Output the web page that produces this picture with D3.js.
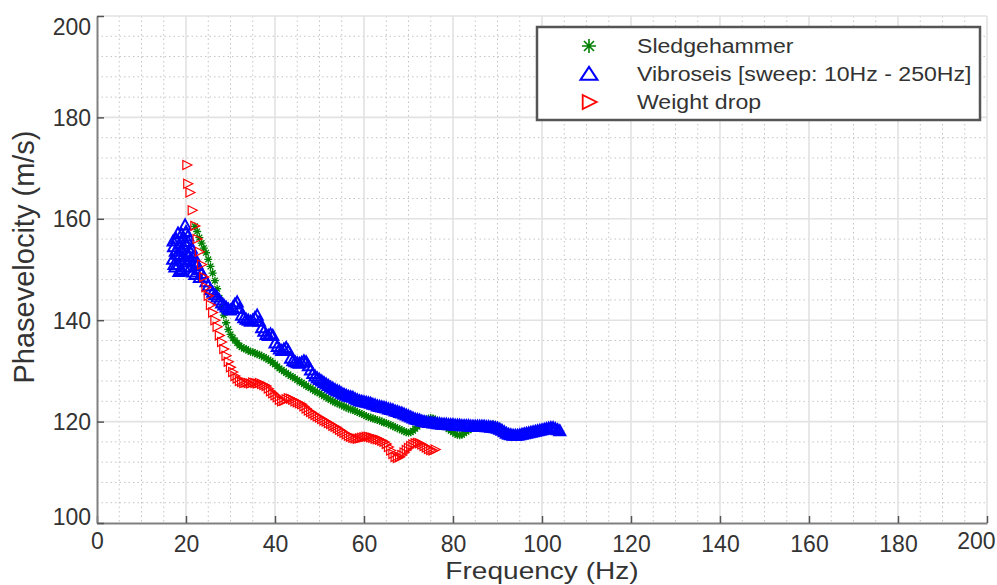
<!DOCTYPE html>
<html>
<head>
<meta charset="utf-8">
<script src="https://cdn.jsdelivr.net/npm/d3@7"></script>
<style>
	body { margin: 0; background: #fff; }
	text { font-family: "Liberation Sans", Arial, sans-serif; fill: #333; }
</style>
</head>
<body>
<div id="chart"></div>
<script>
///////////////////////////////////////////////////////////////////////////
//////////////////////////// data /////////////////////////////////////////
///////////////////////////////////////////////////////////////////////////

const seriesNames = [
	"Sledgehammer",
	"Vibroseis [sweep: 10Hz - 250Hz]",
	"Weight drop"
];

const xTicks = [0, 20, 40, 60, 80, 100, 120, 140, 160, 180, 200];
const yTicks = [100, 120, 140, 160, 180, 200];

// sledgehammer, sampled every 0.5 Hz from 22 Hz
const sledgeStart = 22.0;
const sledgeStep = 0.5;
const sledgeVel = [
	158.5, 157.5, 156.3, 155.2, 154.2, 153.3, 152.0, 150.6, 149.3, 147.8,
	146.2, 144.4, 142.6, 141.0, 139.5, 138.2, 137.2, 136.5, 136.0, 135.5,
	135.0, 134.7, 134.4, 134.3, 134.0, 133.8, 133.7, 133.5, 133.3, 133.2,
	132.9, 132.7, 132.5, 132.2, 132.0, 131.6, 131.3, 130.9, 130.5, 130.2,
	129.9, 129.6, 129.3, 129.0, 128.8, 128.5, 128.2, 127.9, 127.7, 127.4,
	127.1, 126.8, 126.6, 126.3, 126.0, 125.8, 125.6, 125.3, 125.0, 124.8,
	124.5, 124.3, 124.0, 123.8, 123.6, 123.4, 123.2, 123.0, 122.8, 122.6,
	122.4, 122.3, 122.1, 121.9, 121.7, 121.5, 121.3, 121.1, 120.9, 120.8,
	120.6, 120.5, 120.3, 120.2, 120.0, 119.8, 119.7, 119.5, 119.3, 119.1,
	118.9, 118.7, 118.5, 118.3, 118.1, 117.9, 117.8, 117.9, 118.2, 118.6,
	119.0, 119.5, 119.9, 120.2, 120.4, 120.6, 120.7, 120.6, 120.4, 120.1,
	119.8, 119.5, 119.2, 118.9, 118.5, 118.2, 117.9, 117.6, 117.4, 117.3,
	117.4, 117.7, 118.0, 118.3, 118.6, 118.8, 119.0, 119.1, 119.2, 119.3,
	119.3, 119.4, 119.4, 119.4, 119.5, 119.3, 119.2
];

// vibroseis, scattered picks at the low end
const vibroScatter = [
	[17.0, 152.0], [17.2, 154.5], [17.3, 151.0], [17.5, 150.5], [17.8, 156.0],
	[18.0, 153.0], [18.2, 157.2], [18.3, 151.0], [18.5, 155.0], [18.8, 149.8],
	[19.0, 157.0], [19.0, 150.0], [19.2, 152.5], [19.5, 154.5], [19.7, 150.5],
	[19.8, 158.8], [20.2, 151.5], [20.5, 153.0], [21.0, 150.5], [21.5, 149.5],
	[22.0, 149.0], [18.6, 152.8], [19.4, 156.2], [20.0, 155.0], [20.8, 151.8],
	[17.6, 153.6], [18.9, 154.0], [20.4, 156.6], [21.2, 154.2], [22.4, 151.2],
	[23.0, 148.4], [17.1, 155.6], [19.6, 152.0], [21.8, 152.6], [18.4, 149.6]
];

// vibroseis, sampled every 0.5 Hz from 20 Hz
const vibroStart = 20.0;
const vibroStep = 0.5;
const vibroVel = [
	157.5, 155.5, 153.5, 152.5, 151.5, 150.8, 150.0, 149.2, 148.5, 147.6,
	146.8, 146.0, 145.5, 145.0, 144.6, 144.0, 143.4, 143.0, 142.6, 142.2,
	142.0, 142.5, 143.2, 143.6, 142.3, 141.0, 140.5, 140.2, 140.0, 139.8,
	140.0, 140.5, 141.0, 139.8, 138.5, 137.8, 137.2, 137.0, 137.3, 137.0,
	135.5, 134.8, 134.3, 134.0, 134.3, 134.6, 134.0, 132.5, 132.0, 131.8,
	131.6, 131.5, 131.7, 132.0, 131.8, 131.0, 130.2, 129.5, 129.0, 128.6,
	128.3, 128.0, 127.7, 127.4, 127.1, 126.8, 126.6, 126.3, 126.1, 125.9,
	125.6, 125.4, 125.2, 125.0, 124.9, 124.8, 124.5, 124.3, 124.1, 124.0,
	123.9, 123.8, 123.7, 123.6, 123.4, 123.3, 123.1, 123.0, 122.9, 122.8,
	122.7, 122.5, 122.4, 122.3, 122.1, 122.0, 121.8, 121.7, 121.5, 121.3,
	121.1, 120.9, 120.7, 120.5, 120.4, 120.3, 120.1, 120.0, 119.9, 119.8,
	119.8, 119.7, 119.7, 119.6, 119.6, 119.5, 119.5, 119.5, 119.4, 119.4,
	119.4, 119.3, 119.3, 119.3, 119.2, 119.2, 119.2, 119.2, 119.1, 119.1,
	119.1, 119.1, 119.1, 119.1, 119.1, 119.0, 119.0, 118.9, 118.9, 118.8,
	118.7, 118.5, 118.3, 118.0, 117.7, 117.5, 117.4, 117.3, 117.3, 117.3,
	117.4, 117.5, 117.6, 117.7, 117.8, 117.9, 118.0, 118.1, 118.2, 118.3,
	118.4, 118.5, 118.6, 118.7, 118.8, 118.8, 118.6, 118.4, 118.2
];

// weight drop, sparse picks at the top
const dropTop = [
	[20.2, 170.6], [20.4, 166.9], [20.9, 165.2], [21.4, 161.7], [22.0, 158.6]
];

// weight drop, sampled every 0.5 Hz from 22.5 Hz
const dropStart = 22.5;
const dropStep = 0.5;
const dropVel = [
	156.0, 153.5, 151.0, 148.5, 146.5, 144.8, 143.0, 141.5, 140.0, 138.7,
	137.0, 135.7, 134.3, 133.0, 131.8, 130.7, 129.8, 129.0, 128.5, 128.0,
	127.8, 127.6, 127.7, 127.6, 127.5, 127.7, 127.6, 127.5, 127.6, 127.4,
	127.2, 127.0, 126.5, 126.0, 125.6, 125.2, 124.8, 124.3, 124.0, 124.1,
	124.4, 124.6, 124.5, 124.3, 124.0, 123.8, 123.6, 123.4, 123.0, 122.6,
	122.2, 121.9, 121.6, 121.3, 121.0, 120.8, 120.5, 120.2, 120.0, 119.7,
	119.5, 119.2, 119.0, 118.7, 118.4, 118.1, 117.8, 117.5, 117.2, 117.0,
	116.8, 116.7, 116.6, 116.7, 116.8, 116.9, 117.0, 117.0, 116.9, 116.8,
	116.6, 116.5, 116.4, 116.2, 116.0, 115.6, 115.0, 114.3, 113.6, 113.0,
	112.8, 113.0, 113.4, 113.9, 114.4, 114.8, 115.2, 115.5, 115.7, 115.8,
	115.7, 115.5, 115.2, 114.9, 114.6, 114.4, 114.3, 114.5
];

///////////////////////////////////////////////////////////////////////////
//////////////////////////// drawing function /////////////////////////////
///////////////////////////////////////////////////////////////////////////

const createChart = () => {
	//////////////////////////// tables ///////////////////////////////////////

	const sledge = sledgeVel.map((v, i) => ({ f: sledgeStart + i * sledgeStep, v }));
	const vibro = vibroScatter
		.map(([f, v]) => ({ f, v }))
		.concat(vibroVel.map((v, i) => ({ f: vibroStart + i * vibroStep, v })));
	const drop = dropTop
		.map(([f, v]) => ({ f, v }))
		.concat(dropVel.map((v, i) => ({ f: dropStart + i * dropStep, v })));

	const xAccessor = (d) => d.f;
	const yAccessor = (d) => d.v;

	//////////////////////////// sizes ////////////////////////////////////////

	let dimensions = {
		width: 997,
		height: 585,
		margin: { top: 16, right: 10, bottom: 62, left: 97 }
	};
	dimensions.boundedWidth =
		dimensions.width - dimensions.margin.left - dimensions.margin.right;
	dimensions.boundedHeight =
		dimensions.height - dimensions.margin.top - dimensions.margin.bottom;

	//////////////////////////// svg //////////////////////////////////////////

	const wrapper = d3
		.select("#chart")
		.append("svg")
		.attr("width", dimensions.width)
		.attr("height", dimensions.height);

	const bounds = wrapper
		.append("g")
		.attr(
			"transform",
			`translate(${dimensions.margin.left},${dimensions.margin.top})`
		);

	//////////////////////////// scales ///////////////////////////////////////

	const xScale = d3
		.scaleLinear()
		.domain([0, 200])
		.range([0, dimensions.boundedWidth]);

	const yScale = d3
		.scaleLinear()
		.domain([100, 200])
		.range([dimensions.boundedHeight, 0]);

	//////////////////////////// grid /////////////////////////////////////////

	const xMinor = d3.range(0, 201, 5).filter((d) => d % 20 !== 0);
	const yMinor = d3.range(100, 201, 4).filter((d) => d % 20 !== 0);

	const grid = bounds.append("g").attr("class", "grid");

	grid
		.selectAll(".xminor")
		.data(xMinor)
		.join("line")
		.attr("x1", (d) => xScale(d))
		.attr("x2", (d) => xScale(d))
		.attr("y1", 0)
		.attr("y2", dimensions.boundedHeight)
		.attr("stroke", "#c4c4c4")
		.attr("stroke-width", 1)
		.attr("stroke-dasharray", "1.5,3");

	grid
		.selectAll(".yminor")
		.data(yMinor)
		.join("line")
		.attr("y1", (d) => yScale(d))
		.attr("y2", (d) => yScale(d))
		.attr("x1", 0)
		.attr("x2", dimensions.boundedWidth)
		.attr("stroke", "#c4c4c4")
		.attr("stroke-width", 1)
		.attr("stroke-dasharray", "1.5,3");

	grid
		.selectAll(".xmajor")
		.data(xTicks.slice(1))
		.join("line")
		.attr("x1", (d) => xScale(d))
		.attr("x2", (d) => xScale(d))
		.attr("y1", 0)
		.attr("y2", dimensions.boundedHeight)
		.attr("stroke", "#e2e2e2")
		.attr("stroke-width", 1.6);

	grid
		.selectAll(".ymajor")
		.data(yTicks.slice(1))
		.join("line")
		.attr("y1", (d) => yScale(d))
		.attr("y2", (d) => yScale(d))
		.attr("x1", 0)
		.attr("x2", dimensions.boundedWidth)
		.attr("stroke", "#e2e2e2")
		.attr("stroke-width", 1.6);

	//////////////////////////// axes /////////////////////////////////////////

	const xAxis = bounds
		.append("g")
		.attr("transform", `translate(0,${dimensions.boundedHeight})`)
		.call(
			d3.axisBottom(xScale).tickValues(xTicks).tickSize(-7).tickSizeOuter(0).tickPadding(13)
		);
	xAxis.select(".domain").attr("stroke", "#808080").attr("stroke-width", 2);
	xAxis.selectAll(".tick line").attr("stroke", "#555").attr("stroke-width", 1.5);
	xAxis
		.selectAll(".tick text")
		.attr("font-size", 23)
		.attr("font-family", "Liberation Sans, Arial, sans-serif")
		.attr("fill", "#333")
		.attr("text-anchor", (d) => (d === 200 ? "end" : "middle"))
		.attr("x", (d) => (d === 200 ? 8 : 0))
		.attr("dy", (d) => (d === 0 || d === 200 ? "0.55em" : "0.71em"));

	const yAxis = bounds
		.append("g")
		.call(
			d3.axisLeft(yScale).tickValues(yTicks).tickSize(-7).tickSizeOuter(0).tickPadding(6)
		);
	yAxis.select(".domain").attr("stroke", "#808080").attr("stroke-width", 2);
	yAxis.selectAll(".tick line").attr("stroke", "#555").attr("stroke-width", 1.5);
	yAxis
		.selectAll(".tick text")
		.attr("font-size", 23)
		.attr("font-family", "Liberation Sans, Arial, sans-serif")
		.attr("fill", "#333")
		.attr("dy", (d) => (d === 200 ? "0.82em" : d === 100 ? "0.08em" : "0.34em"));

	// axis titles
	wrapper
		.append("text")
		.attr("transform", `translate(${dimensions.margin.left + dimensions.boundedWidth / 2},579) scale(1.22,1)`)
		.attr("text-anchor", "middle")
		.attr("font-size", 23)
		.text("Frequency (Hz)");

	wrapper
		.append("text")
		.attr("transform", "translate(34,257) rotate(-90)")
		.attr("text-anchor", "middle")
		.attr("font-size", 29)
		.text("Phasevelocity (m/s)");

	//////////////////////////// markers //////////////////////////////////////

	const asterisk = (r) => {
		const k = r * 0.72;
		return `M${-r},0L${r},0M0,${-r}L0,${r}M${-k},${-k}L${k},${k}M${-k},${k}L${k},${-k}`;
	};
	const triUp = (w, h) => `M0,${-h * 0.55}L${w},${h * 0.45}L${-w},${h * 0.45}Z`;
	const triRight = (w, h) => `M${-w * 0.45},${-h}L${w * 0.55},0L${-w * 0.45},${h}Z`;

	const plot = bounds.append("g").attr("class", "plot");

	plot
		.append("g")
		.selectAll("path")
		.data(sledge)
		.join("path")
		.attr("transform", (d) => `translate(${xScale(xAccessor(d))},${yScale(yAccessor(d))})`)
		.attr("d", asterisk(4))
		.attr("fill", "none")
		.attr("stroke", "#008000")
		.attr("stroke-width", 1.3);

	plot
		.append("g")
		.selectAll("path")
		.data(vibro)
		.join("path")
		.attr("transform", (d) => `translate(${xScale(xAccessor(d))},${yScale(yAccessor(d))})`)
		.attr("d", triUp(5.5, 10))
		.attr("fill", "none")
		.attr("stroke", "#0000ff")
		.attr("stroke-width", 2);

	plot
		.append("g")
		.selectAll("path")
		.data(drop)
		.join("path")
		.attr("transform", (d) => `translate(${xScale(xAccessor(d))},${yScale(yAccessor(d))})`)
		.attr("d", triRight(9, 4.5))
		.attr("fill", "none")
		.attr("stroke", "#ff0000")
		.attr("stroke-width", 1.2);

	//////////////////////////// legend ///////////////////////////////////////

	const legend = wrapper.append("g").attr("transform", "translate(537,27)");

	legend
		.append("rect")
		.attr("width", 443)
		.attr("height", 93)
		.attr("fill", "#fff")
		.attr("stroke", "#555")
		.attr("stroke-width", 2.5);

	const legendMarks = [
		{ d: asterisk(7), color: "#008000", width: 1.6 },
		{ d: triUp(8.5, 13), color: "#0000ff", width: 2 },
		{ d: triRight(14, 7), color: "#ff0000", width: 1.8 }
	];

	const rows = legend
		.selectAll(".row")
		.data(seriesNames)
		.join("g")
		.attr("transform", (d, i) => `translate(0,${19 + i * 28})`);

	rows
		.append("path")
		.attr("transform", "translate(52,0)")
		.attr("d", (d, i) => legendMarks[i].d)
		.attr("fill", "none")
		.attr("stroke", (d, i) => legendMarks[i].color)
		.attr("stroke-width", (d, i) => legendMarks[i].width);

	rows
		.append("text")
		.attr("transform", "translate(100,7) scale(1.1,1)")
		.attr("font-size", 21)
		.text((d) => d);
};

createChart();
</script>
</body>
</html>
